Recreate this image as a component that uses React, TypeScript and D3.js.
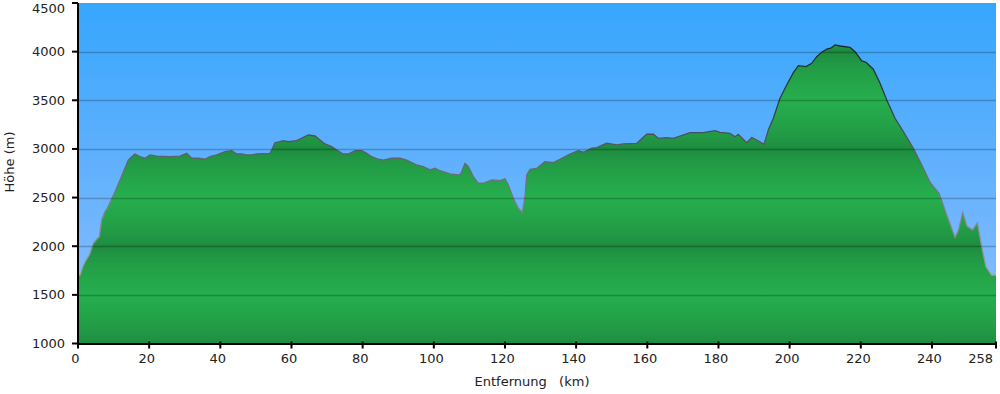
import React from "react";
import * as d3 from "d3";

const distanceKm: number[] = [
  0, 0.56, 1.32, 2.25, 3.18, 4.3, 5.26, 5.99, 6.66, 7.59, 8.24, 9.47, 10.4, 11.8, 14.14, 15.09, 16.02, 17.43, 18.83,
  20.24, 22.12, 25.86, 28.67, 30.55, 31.96, 33.81, 35.69, 37.1, 38.98, 41.32, 43.2, 44.6, 46.01, 47.41, 48.82, 50.22,
  53.96, 54.44, 55.37, 56.77, 57.7, 59.11, 61.47, 63.32, 64.73, 66.61, 68.02, 69.42, 71.3, 72.71, 74.56, 75.97, 77.85,
  79.74, 81.14, 82.55, 84.4, 85.81, 88.17, 90.5, 92.38, 95.19, 97.05, 98.93, 100.34, 101.74, 104.55, 106.89, 107.56,
  108.77, 109.7, 111.1, 112.51, 113.91, 116.27, 118.61, 120.01, 120.94, 122.34, 123.75, 124.87, 125.63, 126.11, 127.04,
  128.92, 131.25, 133.59, 135.47, 138.28, 140.61, 142.02, 144.38, 145.78, 148.59, 151.4, 153.26, 157.03, 159.84, 161.69,
  163.1, 165.46, 167.31, 172.01, 175.74, 179.03, 180.44, 183.25, 184.65, 185.58, 187.94, 189.35, 190.75, 192.81, 194.01,
  195.42, 197.3, 199.18, 201.04, 202.45, 204.61, 206.21, 207.62, 209.02, 210.43, 211.55, 212.76, 214.17, 216.98, 218.38,
  220.27, 221.47, 223.52, 225.41, 227.29, 229.62, 231.96, 234.77, 237.13, 239.46, 241.99, 244.15, 246.49, 247.41, 248.65,
  249.77, 251.46, 252.75, 253.99, 255.2, 256.8, 258,
];

const elevationM: number[] = [
  1704, 1704, 1790, 1858, 1910, 2030, 2071, 2098, 2270, 2355, 2390, 2485, 2560, 2681, 2886, 2920, 2948, 2920, 2904,
  2938, 2927, 2920, 2927, 2955, 2904, 2904, 2894, 2920, 2938, 2972, 2982, 2948, 2948, 2938, 2938, 2948,
  2955, 2989, 3064, 3074, 3085, 3074, 3085, 3120, 3143, 3133, 3092, 3051, 3023, 2989, 2948, 2948, 2982,
  2982, 2955, 2920, 2894, 2886, 2904, 2904, 2886, 2835, 2817, 2784, 2801, 2776, 2743, 2732, 2743,
  2852, 2817, 2715, 2647, 2647, 2681, 2674, 2694, 2629, 2493, 2390, 2349, 2509, 2732, 2791,
  2801, 2869, 2859, 2894, 2948, 2982, 2966, 3007, 3013, 3058, 3041, 3051, 3058, 3151, 3151,
  3109, 3116, 3109, 3167, 3167, 3188, 3171, 3161, 3126, 3151, 3064, 3118, 3092, 3048, 3195,
  3315, 3521, 3657, 3784, 3856, 3846, 3880, 3948, 3993, 4027, 4035, 4069, 4058, 4045, 4000,
  3904, 3891, 3819, 3675, 3503, 3315, 3177, 3007, 2835, 2657, 2544, 2321, 2092, 2160, 2345,
  2208, 2167, 2236, 1995, 1790, 1704, 1704,
];

const xTicks: number[] = [0, 20, 40, 60, 80, 100, 120, 140, 160, 180, 200, 220, 240, 258];
const yTicks: number[] = [1000, 1500, 2000, 2500, 3000, 3500, 4000, 4500];
const gridLevels: number[] = [1500, 2000, 2500, 3000, 3500, 4000];

const W = 1000;
const H = 394;
const L = 78;
const R = 996;
const T = 3;
const B = 343.5;

export default function App() {
  const x = d3.scaleLinear().domain([0, 258]).range([L, R]);
  const y = d3.scaleLinear().domain([1000, 4500]).range([B, T]);

  const pts = distanceKm.map((d, i) => [d, elevationM[i]] as [number, number]);
  const area = d3
    .area<[number, number]>()
    .x((d) => x(d[0]))
    .y0(y(1000))
    .y1((d) => y(d[1]));
  const line = d3
    .line<[number, number]>()
    .x((d) => x(d[0]))
    .y((d) => y(d[1]));

  // banded green: dark at whole thousands, light at half thousands
  const dark = d3.rgb("#1d883e");
  const light = d3.rgb("#26ae4d");
  const greenStops: { off: number; col: string }[] = [];
  for (let e = 4500; e >= 1000; e -= 25) {
    const phase = ((e % 1000) + 1000) % 1000;
    const t = 1 - Math.abs(phase - 500) / 500;
    greenStops.push({
      off: (y(e) - T) / (B - T),
      col: d3.interpolateRgb(dark, light)(Math.pow(t, 0.6)),
    });
  }

  const font = "'DejaVu Sans', Verdana, sans-serif";

  return (
    <svg
      width={W}
      height={H}
      style={{ position: "absolute", left: 0, top: 0, background: "#fff" }}
      fontFamily={font}
    >
      <defs>
        <linearGradient id="sky" gradientUnits="userSpaceOnUse" x1={0} y1={T} x2={0} y2={B}>
          <stop offset="0" stopColor="#36a6fd" />
          <stop offset="0.45" stopColor="#5fb0fd" />
          <stop offset="1" stopColor="#8fc0ff" />
        </linearGradient>
        <linearGradient id="green" gradientUnits="userSpaceOnUse" x1={0} y1={T} x2={0} y2={B}>
          {greenStops.map((s, i) => (
            <stop key={i} offset={s.off} stopColor={s.col} />
          ))}
        </linearGradient>
        <linearGradient id="edge" gradientUnits="userSpaceOnUse" x1={0} y1={y(4100)} x2={0} y2={y(1700)}>
          <stop offset="0" stopColor="#1a2828" />
          <stop offset="0.3" stopColor="#3a4044" />
          <stop offset="0.55" stopColor="#686c74" />
          <stop offset="1" stopColor="#a0a0a8" />
        </linearGradient>
      </defs>

      <rect x={L} y={T} width={R - L} height={B - T} fill="url(#sky)" />
      <path d={area(pts) || ""} fill="url(#green)" />
      <path d={line(pts) || ""} fill="none" stroke="url(#edge)" strokeWidth={1.3} />

      {gridLevels.map((g) => (
        <line
          key={g}
          x1={L}
          x2={R}
          y1={Math.round(y(g)) + 0.5}
          y2={Math.round(y(g)) + 0.5}
          stroke="#000"
          strokeOpacity={0.22}
          strokeWidth={1.3}
        />
      ))}

      {/* axes */}
      <line x1={L} x2={L} y1={T} y2={B + 1} stroke="#000" strokeWidth={2} />
      <line x1={L - 1} x2={R} y1={B + 0.5} y2={B + 0.5} stroke="#000" strokeWidth={2} />

      {yTicks.map((t) => (
        <g key={t}>
          <line x1={L - 6} x2={L} y1={y(t)} y2={y(t)} stroke="#000" strokeWidth={2} />
          <text x={65} y={Math.max(y(t), 8) + 4.5} textAnchor="end" fontSize={13} fill="#222">
            {t}
          </text>
        </g>
      ))}

      {xTicks.map((t, i) => {
        const last = i === xTicks.length - 1;
        return (
          <g key={t}>
            <line x1={x(t)} x2={x(t)} y1={B - 2} y2={B + 5} stroke="#000" strokeWidth={2} />
            <text
              x={last ? 993 : x(t) - 2.5}
              y={363}
              textAnchor={last ? "end" : "middle"}
              fontSize={13}
              fill="#222"
            >
              {t}
            </text>
          </g>
        );
      })}

      <text x={532} y={386} textAnchor="middle" fontSize={13} fill="#222" style={{ whiteSpace: "pre" }}>
        {"Entfernung   (km)"}
      </text>
      <text transform={`translate(13.5,${162}) rotate(-90)`} textAnchor="middle" fontSize={13} fill="#222">
        Höhe (m)
      </text>
    </svg>
  );
}
